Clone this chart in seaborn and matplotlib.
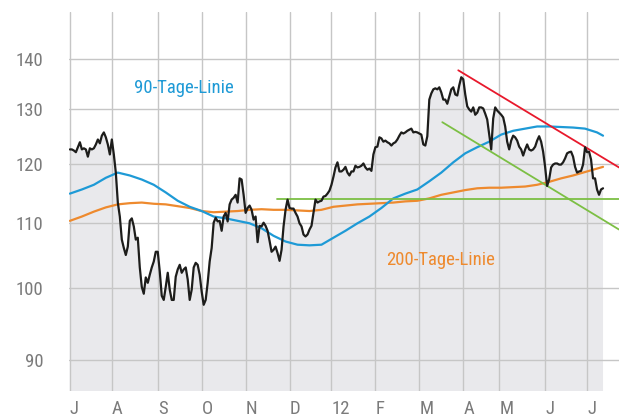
import matplotlib
matplotlib.use("Agg")
import matplotlib.pyplot as plt
from matplotlib import font_manager as fm
from matplotlib.ticker import NullLocator, FixedLocator, FixedFormatter
import seaborn as sns

# ---------------- data ----------------
price = [
    122.6, 122.6, 122.4, 122.1, 123.0, 123.9, 122.6, 122.8, 122.6, 121.3,
    122.8, 122.6, 122.8, 123.5, 124.4, 123.7, 125.1, 125.7, 124.8, 123.5,
    121.7, 124.4, 121.7, 118.5, 113.4, 111.1, 107.4, 106.1, 105.0, 106.3,
    110.4, 110.8, 109.5, 107.4, 107.7, 103.1, 100.2, 99.2, 101.6, 100.8,
    102.0, 103.1, 104.0, 105.5, 105.5, 102.5, 98.9, 98.3, 100.2, 102.3,
    99.8, 98.3, 98.3, 101.7, 102.8, 103.5, 102.3, 102.8, 103.1, 101.3,
    98.3, 99.8, 103.1, 103.8, 103.5, 102.0, 99.5, 97.6, 98.3, 100.8,
    104.0, 106.1, 110.1, 110.9, 110.3, 110.4, 108.8, 111.1, 111.7, 110.3,
    113.1, 113.9, 114.2, 114.7, 113.4, 117.5, 117.3, 114.7, 111.7, 112.5,
    112.9, 112.2, 110.6, 111.1, 107.0, 109.6, 109.5, 110.1, 109.6, 108.8,
    107.2, 105.5, 105.8, 106.3, 105.3, 104.1, 105.8, 109.5, 112.2, 113.9,
    112.5, 112.4, 112.4, 111.7, 111.1, 110.0, 109.5, 108.2, 107.9, 108.2,
    109.0, 109.6, 111.7, 113.9, 113.4, 113.6, 113.7, 114.4, 114.5, 114.9,
    115.4, 116.4, 117.8, 119.4, 120.3, 118.7, 118.7, 119.0, 119.5, 118.5,
    118.0, 118.7, 118.7, 119.7, 119.4, 119.5, 119.7, 120.1, 119.4, 119.0,
    119.2, 118.8, 121.7, 123.0, 123.1, 124.8, 124.6, 124.0, 124.2, 123.9,
    123.7, 123.3, 123.7, 123.9, 124.4, 125.1, 125.7, 125.5, 125.7, 126.0,
    126.2, 126.4, 125.7, 125.8, 125.7, 125.5, 125.3, 123.5, 123.3, 125.0,
    131.9, 133.1, 133.9, 134.1, 133.9, 134.3, 133.3, 131.9, 131.9, 131.1,
    132.5, 133.9, 134.3, 132.9, 132.7, 134.7, 136.3, 135.9, 132.9, 130.6,
    130.0, 129.6, 130.4, 129.0, 129.4, 130.4, 130.4, 130.2, 129.2, 128.1,
    125.3, 122.6, 128.3, 130.4, 129.8, 129.4, 129.0, 128.5, 126.8, 124.0,
    122.6, 124.2, 125.1, 124.8, 124.2, 123.1, 122.6, 121.5, 122.6, 123.5,
    122.6, 122.4, 122.6, 123.1, 124.2, 125.0, 124.0, 122.2, 119.5, 116.2,
    117.3, 119.4, 119.9, 120.1, 120.1, 119.9, 119.9, 120.3, 121.0, 121.9,
    122.1, 122.2, 121.3, 119.5, 118.5, 118.7, 118.8, 119.9, 123.0, 122.1,
    122.2, 120.8, 117.5, 117.5, 115.6, 114.7, 115.6, 115.8,
]
days = list(range(len(price)))

ma_days = [0, 6, 12, 18, 24, 30, 36, 42, 48, 54, 60, 66, 72, 78, 84, 90, 96,
           102, 108, 114, 120, 126, 132, 138, 144, 150, 156, 162, 168, 174,
           180, 186, 192, 198, 204, 210, 216, 222, 228, 234, 240, 246, 252,
           258, 264, 267]
ma90 = [114.9, 115.6, 116.4, 117.6, 118.5, 118.0, 117.3, 116.4, 115.1, 113.7,
        112.7, 112.0, 111.1, 110.8, 110.4, 110.0, 109.2, 108.0, 107.1, 106.6,
        106.5, 106.6, 107.7, 108.8, 110.0, 111.1, 112.5, 114.1, 114.9, 115.6,
        117.0, 118.5, 120.3, 121.9, 123.0, 124.0, 125.3, 126.0, 126.4, 126.8,
        126.8, 126.7, 126.6, 126.4, 125.7, 125.1]
ma200 = [110.4, 111.1, 111.9, 112.6, 113.1, 113.3, 113.4, 113.2, 113.1, 112.8,
         112.5, 112.0, 111.8, 111.9, 112.0, 112.2, 112.3, 112.2, 112.2, 112.1,
         112.0, 112.2, 112.7, 112.9, 113.1, 113.2, 113.3, 113.4, 113.6, 113.7,
         114.1, 114.7, 115.1, 115.5, 115.8, 115.9, 115.9, 116.0, 116.1, 116.4,
         116.9, 117.5, 118.0, 118.6, 119.2, 119.5]

# trend lines (start/end)
red_x, red_y = [194.5, 275], [137.7, 119.4]
green_diag_x, green_diag_y = [186.5, 275], [127.6, 109.0]
green_flat_x, green_flat_y = [103.5, 275], [114.0, 114.0]

month_pos = [0, 21, 44, 66, 88, 110, 131, 153, 175, 197, 215, 238, 259]
month_lbl = ["J", "A", "S", "O", "N", "D", "12", "F", "M", "A", "M", "J", "J"]
y_ticks = [90, 100, 110, 120, 130, 140]

# ---------------- style ----------------
sns.set_style("white")
# pick the narrowest available family
_names = {f.name for f in fm.fontManager.ttflist}
_cands = ["Liberation Sans Narrow", "Roboto Condensed", "DejaVu Sans Condensed",
          "Roboto", "Liberation Sans", "DejaVu Sans"]
_fam = [c for c in _cands if c in _names] + ["DejaVu Sans"]
plt.rcParams["font.family"] = _fam[:1] + ["DejaVu Sans"]
plt.rcParams["font.stretch"] = "condensed"

BLUE = "#1e9ad6"
ORANGE = "#ee8a2e"
GREEN = "#7cbf44"
RED = "#e8192c"
BLACK = "#1d1d1b"
GRID = "#c6c6c6"
FILL = "#e9e9ec"
TXT = "#7b7b7b"

fig = plt.figure(figsize=(6.19, 4.17), dpi=100)
ax = fig.add_axes([69.3 / 619, 26 / 417, 549.7 / 619, 379 / 417])

ax.fill_between(days, price, 70, color=FILL, lw=0, zorder=0.2)

sns.lineplot(x=ma_days, y=ma200, ax=ax, color=ORANGE, lw=1.6, zorder=2)
sns.lineplot(x=ma_days, y=ma90, ax=ax, color=BLUE, lw=1.6, zorder=2.1)
sns.lineplot(x=green_flat_x, y=green_flat_y, ax=ax, color=GREEN, lw=1.3, zorder=2.2)
sns.lineplot(x=green_diag_x, y=green_diag_y, ax=ax, color=GREEN, lw=1.3, zorder=2.2)
sns.lineplot(x=red_x, y=red_y, ax=ax, color=RED, lw=1.3, zorder=2.3)
sns.lineplot(x=days, y=price, ax=ax, color=BLACK, lw=1.6, zorder=3)

ax.set_yscale("log")
ax.set_ylim(86, 150)
ax.set_xlim(-0.3, 275)
ax.yaxis.set_major_locator(FixedLocator(y_ticks))
ax.yaxis.set_major_formatter(FixedFormatter([str(v) for v in y_ticks]))
ax.yaxis.set_minor_locator(NullLocator())
ax.xaxis.set_major_locator(FixedLocator(month_pos))
ax.xaxis.set_major_formatter(FixedFormatter(month_lbl))
ax.xaxis.set_minor_locator(NullLocator())

ax.set_axisbelow(True)
ax.grid(True, color=GRID, lw=1.0, zorder=0.5)
for s in ax.spines.values():
    s.set_visible(False)

FS = 13.5
ax.tick_params(axis="both", length=0, labelsize=FS, labelcolor=TXT)
ax.tick_params(axis="y", pad=18.5)
ax.tick_params(axis="x", pad=6.5)
for lbl in ax.get_xticklabels():
    lbl.set_ha("left")
ax.set_xlabel("")
ax.set_ylabel("")

ax.text(57.3, 133.2, "90-Tage-Linie", color=BLUE, fontsize=FS,
        ha="center", va="baseline")
ax.text(185.8, 103.4, "200-Tage-Linie", color=ORANGE, fontsize=FS,
        ha="center", va="baseline")

fig.savefig("out.png", dpi=100)
